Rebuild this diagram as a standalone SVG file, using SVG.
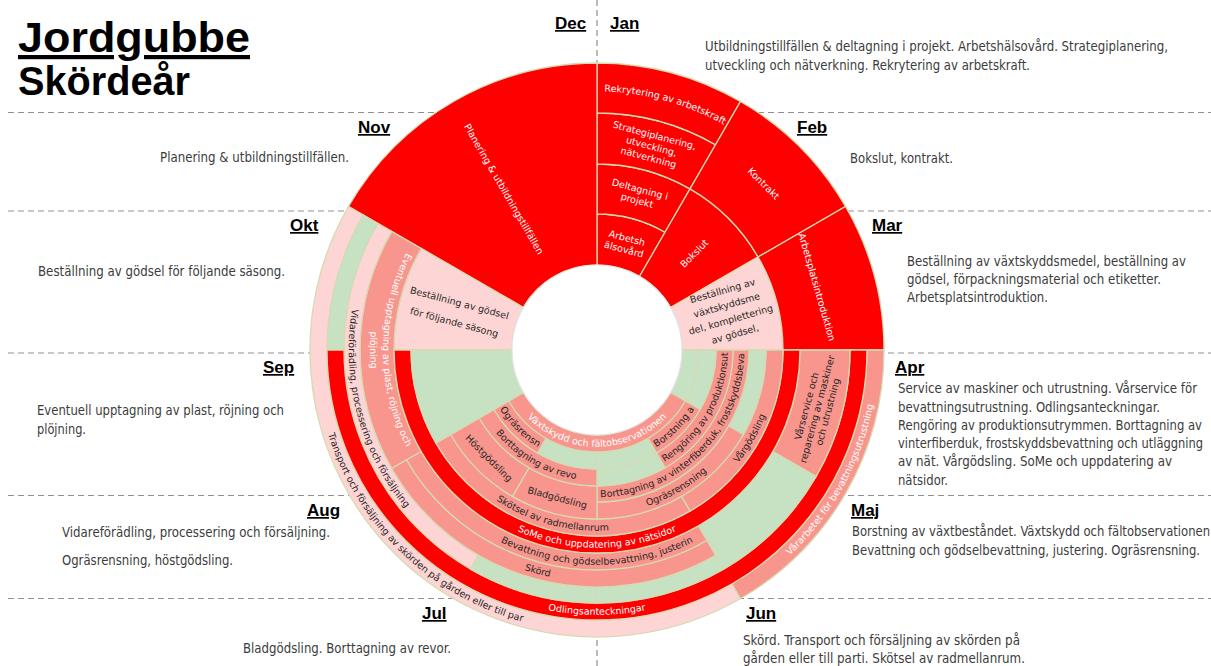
<svg xmlns="http://www.w3.org/2000/svg" width="1211" height="666" viewBox="0 0 1211 666">
<style>
.cell{stroke:#d5dab3;stroke-width:1.3}
.red{fill:#ff0000}.sal{fill:#f8958d}.pink{fill:#fdd5d4}.grn{fill:#c7e2c3}
.lbl{font-family:'DejaVu Sans',Verdana,sans-serif;font-size:9.5px;text-anchor:middle}
.w{fill:#ffffff}.d{fill:#262626}
.mon{font-family:'Liberation Sans',Arial,sans-serif;font-weight:bold;font-size:17px;text-decoration:underline;fill:#000}
.desc{font-family:'DejaVu Sans Condensed','Liberation Sans',sans-serif;font-size:14.5px;fill:#3c3c3c}
.guide{stroke:#8f8f8f;stroke-width:1.2;stroke-dasharray:6 4;fill:none}
.title{font-family:'Liberation Sans',Arial,sans-serif;font-weight:bold;fill:#000}
</style>
<defs>
<!-- baseline arcs: bottom ones run left to right through 6 o'clock, top one through 12 o'clock -->
<path id="pb97" d="M-96.8,0A96.8,96.8 0 0 0 96.8,0"/>
<path id="pb114" d="M-113.8,0A113.8,113.8 0 0 0 113.8,0"/>
<path id="pb131" d="M-130.8,0A130.8,130.8 0 0 0 130.8,0"/>
<path id="pb147" d="M-147.3,0A147.3,147.3 0 0 0 147.3,0"/>
<path id="pb164" d="M-163.8,0A163.8,163.8 0 0 0 163.8,0"/>
<path id="pb181" d="M-180.8,0A180.8,180.8 0 0 0 180.8,0"/>
<path id="pb198" d="M-197.8,0A197.8,197.8 0 0 0 197.8,0"/>
<path id="pb215" d="M-214.8,0A214.8,214.8 0 0 0 214.8,0"/>
<path id="pb232" d="M-231.8,0A231.8,231.8 0 0 0 231.8,0"/>
<path id="pb248" d="M-248.3,0A248.3,248.3 0 0 0 248.3,0"/>
<path id="pb265" d="M-264.8,0A264.8,264.8 0 0 0 264.8,0"/>
<path id="pb282" d="M-281.7,0A281.7,281.7 0 0 0 281.7,0"/>
<path id="pev1" d="M-214,0A214,214 0 0 0 214,0"/>
<path id="pev2" d="M-227,0A227,227 0 0 0 227,0"/>
<path id="pt258" d="M-258.5,0A258.5,258.5 0 0 1 258.5,0"/>
</defs>
<rect width="1211" height="666" fill="#ffffff"/>

<g id="guides" class="guide">
<line x1="8" y1="112.5" x2="1211" y2="112.5"/>
<line x1="8" y1="211" x2="1211" y2="211"/>
<line x1="8" y1="353" x2="1211" y2="353"/>
<line x1="8" y1="495.5" x2="1211" y2="495.5"/>
<line x1="8" y1="598.5" x2="1211" y2="598.5"/>
<line x1="597" y1="0" x2="597" y2="666"/>
</g>

<g id="title">
<text class="title" x="18" y="52" font-size="42" textLength="232" lengthAdjust="spacingAndGlyphs" text-decoration="underline">Jordgubbe</text>
<text class="title" x="18" y="95" font-size="40" textLength="172" lengthAdjust="spacingAndGlyphs">Skördeår</text>
</g>

<g id="month-labels">
<text class="mon" x="555" y="29">Dec</text>
<text class="mon" x="610" y="29">Jan</text>
<text class="mon" x="358" y="133">Nov</text>
<text class="mon" x="797" y="133">Feb</text>
<text class="mon" x="290" y="231">Okt</text>
<text class="mon" x="872" y="231">Mar</text>
<text class="mon" x="263" y="373">Sep</text>
<text class="mon" x="895" y="373">Apr</text>
<text class="mon" x="307" y="516">Aug</text>
<text class="mon" x="851" y="516">Maj</text>
<text class="mon" x="422" y="619">Jul</text>
<text class="mon" x="746" y="619">Jun</text>
</g>

<!-- month notes: narrow lettering, each line squeezed horizontally to its column width -->
<g id="month-notes" class="desc">
<text transform="translate(705,51) scale(0.74,1)" textLength="625.7" lengthAdjust="spacingAndGlyphs">Utbildningstillfällen &amp; deltagning i projekt. Arbetshälsovård. Strategiplanering,</text>
<text transform="translate(705,70) scale(0.74,1)" textLength="439.2" lengthAdjust="spacingAndGlyphs">utveckling och nätverkning. Rekrytering av arbetskraft.</text>
<text transform="translate(160,162) scale(0.74,1)" textLength="255.4" lengthAdjust="spacingAndGlyphs">Planering &amp; utbildningstillfällen.</text>
<text transform="translate(850,163) scale(0.74,1)" textLength="139.2" lengthAdjust="spacingAndGlyphs">Bokslut, kontrakt.</text>
<text transform="translate(38,276) scale(0.74,1)" textLength="333.8" lengthAdjust="spacingAndGlyphs">Beställning av gödsel för följande säsong.</text>
<text transform="translate(907,266) scale(0.74,1)" textLength="377" lengthAdjust="spacingAndGlyphs">Beställning av växtskyddsmedel, beställning av</text>
<text transform="translate(907,284) scale(0.74,1)" textLength="343.2" lengthAdjust="spacingAndGlyphs">gödsel, förpackningsmaterial och etiketter.</text>
<text transform="translate(907,302) scale(0.74,1)" textLength="190.5" lengthAdjust="spacingAndGlyphs">Arbetsplatsintroduktion.</text>
<text transform="translate(37,415) scale(0.74,1)" textLength="333.8" lengthAdjust="spacingAndGlyphs">Eventuell upptagning av plast, röjning och</text>
<text transform="translate(37,434) scale(0.74,1)" textLength="66.2" lengthAdjust="spacingAndGlyphs">plöjning.</text>
<text transform="translate(898,393) scale(0.74,1)" textLength="404.1" lengthAdjust="spacingAndGlyphs">Service av maskiner och utrustning. Vårservice för</text>
<text transform="translate(898,412) scale(0.74,1)" textLength="354.1" lengthAdjust="spacingAndGlyphs">bevattningsutrustning. Odlingsanteckningar.</text>
<text transform="translate(898,430) scale(0.74,1)" textLength="410.8" lengthAdjust="spacingAndGlyphs">Rengöring av produktionsutrymmen. Borttagning av</text>
<text transform="translate(898,448) scale(0.74,1)" textLength="412.2" lengthAdjust="spacingAndGlyphs">vinterfiberduk, frostskyddsbevattning och utläggning</text>
<text transform="translate(898,466) scale(0.74,1)" textLength="370.3" lengthAdjust="spacingAndGlyphs">av nät. Vårgödsling. SoMe och uppdatering av</text>
<text transform="translate(898,485) scale(0.74,1)" textLength="67.6" lengthAdjust="spacingAndGlyphs">nätsidor.</text>
<text transform="translate(62,537) scale(0.74,1)" textLength="362.2" lengthAdjust="spacingAndGlyphs">Vidareförädling, processering och försäljning.</text>
<text transform="translate(62,565) scale(0.74,1)" textLength="231.1" lengthAdjust="spacingAndGlyphs">Ogräsrensning, höstgödsling.</text>
<text transform="translate(852,536) scale(0.74,1)" textLength="483.8" lengthAdjust="spacingAndGlyphs">Borstning av växtbeståndet. Växtskydd och fältobservationen</text>
<text transform="translate(852,555) scale(0.74,1)" textLength="470.3" lengthAdjust="spacingAndGlyphs">Bevattning och gödselbevattning, justering. Ogräsrensning.</text>
<text transform="translate(243,653) scale(0.74,1)" textLength="281.1" lengthAdjust="spacingAndGlyphs">Bladgödsling. Borttagning av revor.</text>
<text transform="translate(743,645) scale(0.74,1)" textLength="374.3" lengthAdjust="spacingAndGlyphs">Skörd. Transport och försäljning av skörden på</text>
<text transform="translate(743,663) scale(0.74,1)" textLength="381.1" lengthAdjust="spacingAndGlyphs">gården eller till parti. Skötsel av radmellanrum.</text>
</g>

<g id="wheel" transform="translate(597,350)">
<!-- January: four stacked bands -->
<g id="jan-halsovard"><path class="cell red" d="M0,-136A136,136 0 0 1 68,-117.78L42.5,-73.61A85,85 0 0 0 0,-85Z"/>
<text class="lbl w" font-size="10" transform="rotate(15) translate(0,-110.5)"><tspan x="0" y="-2">Arbetsh</tspan><tspan x="0" y="9.5">älsovård</tspan></text></g>
<g id="jan-projekt"><path class="cell red" d="M0,-186A186,186 0 0 1 93,-161.08L68,-117.78A136,136 0 0 0 0,-136Z"/>
<text class="lbl w" font-size="10" transform="rotate(15) translate(0,-161)"><tspan x="0" y="-2">Deltagning i</tspan><tspan x="0" y="9.5">projekt</tspan></text></g>
<g id="jan-strategi"><path class="cell red" d="M0,-237A237,237 0 0 1 118.5,-205.25L93,-161.08A186,186 0 0 0 0,-186Z"/>
<text class="lbl w" font-size="10" transform="rotate(15) translate(0,-211)"><tspan x="0" y="-8">Strategiplanering,</tspan><tspan x="0" y="3.5">utveckling,</tspan><tspan x="0" y="15">nätverkning</tspan></text></g>
<g id="jan-rekrytering"><path class="cell red" d="M0,-287A287,287 0 0 1 143.5,-248.55L118.5,-205.25A237,237 0 0 0 0,-237Z"/>
<text class="lbl w" font-size="10" transform="rotate(15.5)"><textPath href="#pt258" startOffset="50%">Rekrytering av arbetskraft</textPath></text></g>

<!-- February -->
<g id="feb-bokslut"><path class="cell red" transform="rotate(30)" d="M0,-186A186,186 0 0 1 93,-161.08L42.5,-73.61A85,85 0 0 0 0,-85Z"/>
<text class="lbl w" font-size="11" transform="rotate(45) translate(0,-137) rotate(-90)" y="3.8">Bokslut</text></g>
<g id="feb-kontrakt"><path class="cell red" transform="rotate(30)" d="M0,-287A287,287 0 0 1 143.5,-248.55L93,-161.08A186,186 0 0 0 0,-186Z"/>
<text class="lbl w" font-size="11" transform="rotate(45) translate(0,-236)" y="3.8">Kontrakt</text></g>

<!-- March -->
<g id="mar-bestallning"><path class="cell pink" transform="rotate(60)" d="M0,-186A186,186 0 0 1 93,-161.08L42.5,-73.61A85,85 0 0 0 0,-85Z"/>
<text class="lbl d" font-size="10" transform="rotate(74) translate(0,-137) rotate(-90)"><tspan x="0" y="-19">Beställning av</tspan><tspan x="0" y="-4">växtskyddsme</tspan><tspan x="0" y="11">del, komplettering</tspan><tspan x="0" y="26">av gödsel,</tspan></text></g>
<g id="mar-introduktion"><path class="cell red" transform="rotate(60)" d="M0,-287A287,287 0 0 1 143.5,-248.55L93,-161.08A186,186 0 0 0 0,-186Z"/>
<text class="lbl w" font-size="10" transform="rotate(74) translate(0,-229)" y="3.5">Arbetsplatsintroduktion</text></g>

<!-- November and December -->
<g id="novdec-planering"><path class="cell red" transform="rotate(300)" d="M0,-287A287,287 0 0 1 248.55,-143.5L73.61,-42.5A85,85 0 0 0 0,-85Z"/>
<text class="lbl w" font-size="10" transform="rotate(330) translate(0,-186) rotate(90)" y="3.5">Planering &amp; utbildningstillfällen</text></g>

<!-- October -->
<g id="okt-godsel"><path class="cell pink" transform="rotate(270)" d="M0,-203A203,203 0 0 1 101.5,-175.8L42.5,-73.61A85,85 0 0 0 0,-85Z"/>
<text class="lbl d" font-size="10" transform="rotate(285) translate(0,-145) rotate(90)"><tspan x="0" y="-6.5">Beställning av gödsel</tspan><tspan x="0" y="13.5">för följande säsong</tspan></text></g>
<g id="okt-empty"><path class="cell grn" transform="rotate(270)" d="M0,-270A270,270 0 0 1 135,-233.83L126.5,-219.1A253,253 0 0 0 0,-253Z"/></g>

<!-- Season arcs, outer to inner -->
<g id="eventuell"><path class="cell sal" transform="rotate(240)" d="M0,-237A237,237 0 0 1 205.25,-118.5L175.8,-101.5A203,203 0 0 0 0,-203Z"/>
<text class="lbl w" font-size="9" transform="rotate(90)"><textPath href="#pev1" startOffset="50%">Eventuell upptagning av plast, röjning och</textPath></text>
<text class="lbl w" font-size="9" transform="rotate(90)"><textPath href="#pev2" startOffset="50%">plöjning</textPath></text></g>
<g id="vidareforadling"><path class="cell pink" transform="rotate(210)" d="M0,-253A253,253 0 0 1 253,0L237,0A237,237 0 0 0 0,-237Z"/>
<text class="lbl d" transform="rotate(75)"><textPath href="#pb248" startOffset="50%">Vidareförädling, processering och försäljning</textPath></text></g>
<g id="transport"><path class="cell pink" transform="rotate(150)" d="M0,-287A287,287 0 0 1 143.5,248.55L135,233.83A270,270 0 0 0 0,-270Z"/>
<text class="lbl d" font-size="9" transform="rotate(44)"><textPath href="#pb282" startOffset="50%">Transport och försäljning av skörden på gården eller till par</textPath></text></g>
<g id="vararbetet"><path class="cell sal" transform="rotate(90)" d="M0,-287A287,287 0 0 1 248.55,-143.5L233.83,-135A270,270 0 0 0 0,-270Z"/>
<text class="lbl w" font-size="9" transform="rotate(-61)"><textPath href="#pb282" startOffset="50%">Vårarbetet för bevattningsutrustning</textPath></text></g>
<g id="odling"><path class="cell red" transform="rotate(90)" d="M0,-270A270,270 0 0 1 0,270L0,253A253,253 0 0 0 0,-253Z"/>
<text class="lbl w"><textPath href="#pb265" startOffset="50%">Odlingsanteckningar</textPath></text></g>
<g id="varservice"><path class="cell sal" transform="rotate(90)" d="M0,-253A253,253 0 0 1 126.5,-219.1L101.5,-175.8A203,203 0 0 0 0,-203Z"/>
<text class="lbl d" font-size="9" transform="rotate(-75) translate(0,228)"><tspan x="0" y="-7.8">Vårservice och</tspan><tspan x="0" y="3.2">reparering av maskiner</tspan><tspan x="0" y="14.2">och utrustning</tspan></text></g>
<g id="maj-empty"><path class="cell grn" transform="rotate(120)" d="M0,-253A253,253 0 0 1 126.5,-219.1L101.5,-175.8A203,203 0 0 0 0,-203Z"/></g>
<g id="jun-empty"><path class="cell grn" transform="rotate(150)" d="M0,-253A253,253 0 0 1 126.5,-219.1L118.5,-205.25A237,237 0 0 0 0,-237Z"/></g>
<g id="jul-empty"><path class="cell grn" transform="rotate(180)" d="M0,-253A253,253 0 0 1 126.5,-219.1L118.5,-205.25A237,237 0 0 0 0,-237Z"/></g>
<g id="bevattning"><path class="cell sal" transform="rotate(150)" d="M0,-220A220,220 0 0 1 220,0L203,0A203,203 0 0 0 0,-203Z"/>
<text class="lbl d"><textPath href="#pb215" startOffset="50%">Bevattning och gödselbevattning, justerin</textPath></text></g>
<g id="skord"><path class="cell sal" transform="rotate(150)" d="M0,-237A237,237 0 0 1 237,0L220,0A220,220 0 0 0 0,-220Z"/>
<text class="lbl d" font-size="10" transform="rotate(15)"><textPath href="#pb232" startOffset="50%">Skörd</textPath></text></g>
<g id="some"><path class="cell red" transform="rotate(90)" d="M0,-203A203,203 0 0 1 0,203L0,186A186,186 0 0 0 0,-186Z"/>
<text class="lbl w"><textPath href="#pb198" startOffset="50%">SoMe och uppdatering av nätsidor</textPath></text></g>
<g id="vargodsling"><path class="cell sal" transform="rotate(90)" d="M0,-186A186,186 0 0 1 161.08,-93L146.36,-84.5A169,169 0 0 0 0,-169Z"/>
<text class="lbl d" font-size="10" transform="rotate(-60)"><textPath href="#pb181" startOffset="50%">Vårgödsling</textPath></text></g>
<g id="skotsel"><path class="cell sal" transform="rotate(150)" d="M0,-186A186,186 0 0 1 186,0L169,0A169,169 0 0 0 0,-169Z"/>
<text class="lbl d" transform="rotate(15)"><textPath href="#pb181" startOffset="50%">Skötsel av radmellanrum</textPath></text></g>
<g id="apr-empty-5"><path class="cell grn" transform="rotate(90)" d="M0,-169A169,169 0 0 1 84.5,-146.36L76,-131.64A152,152 0 0 0 0,-152Z"/></g>
<g id="ograsrensning"><path class="cell sal" transform="rotate(120)" d="M0,-169A169,169 0 0 1 146.36,-84.5L131.64,-76A152,152 0 0 0 0,-152Z"/>
<text class="lbl d" font-size="10" transform="rotate(-30)"><textPath href="#pb164" startOffset="50%">Ogräsrensning</textPath></text></g>
<g id="vinterfiberduk"><path class="cell sal" transform="rotate(90)" d="M0,-152A152,152 0 0 1 152,0L136,0A136,136 0 0 0 0,-136Z"/>
<text class="lbl d" transform="rotate(-45)"><textPath href="#pb147" startOffset="50%">Borttagning av vinterfiberduk, frostskyddsbeva</textPath></text></g>
<g id="bladgodsling"><path class="cell sal" transform="rotate(180)" d="M0,-169A169,169 0 0 1 84.5,-146.36L68,-117.78A136,136 0 0 0 0,-136Z"/>
<text class="lbl d" font-size="10.5" transform="rotate(15) translate(0,152.5)" y="3.7">Bladgödsling</text></g>
<g id="hostgodsling"><path class="cell sal" transform="rotate(210)" d="M0,-169A169,169 0 0 1 84.5,-146.36L68,-117.78A136,136 0 0 0 0,-136Z"/>
<text class="lbl d" font-size="10.5" transform="rotate(45) translate(0,152.5)" y="3.7">Höstgödsling</text></g>
<g id="rengoring"><path class="cell sal" transform="rotate(90)" d="M0,-136A136,136 0 0 1 117.78,-68L103.06,-59.5A119,119 0 0 0 0,-119Z"/>
<text class="lbl d" transform="rotate(-60)"><textPath href="#pb131" startOffset="50%">Rengöring av produktionsut</textPath></text></g>
<g id="jun-empty-3"><path class="cell grn" transform="rotate(150)" d="M0,-136A136,136 0 0 1 68,-117.78L59.5,-103.06A119,119 0 0 0 0,-119Z"/></g>
<g id="revor"><path class="cell sal" transform="rotate(180)" d="M0,-136A136,136 0 0 1 117.78,-68L103.06,-59.5A119,119 0 0 0 0,-119Z"/>
<text class="lbl d" font-size="10" transform="rotate(30)"><textPath href="#pb131" startOffset="50%">Borttagning av revo</textPath></text></g>
<g id="apr-empty-1"><path class="cell grn" transform="rotate(90)" d="M0,-102A102,102 0 0 1 51,-88.33L42.5,-73.61A85,85 0 0 0 0,-85Z"/></g>
<g id="apr-empty-2"><path class="cell grn" transform="rotate(90)" d="M0,-119A119,119 0 0 1 59.5,-103.06L51,-88.33A102,102 0 0 0 0,-102Z"/></g>
<g id="borstning"><path class="cell sal" transform="rotate(120)" d="M0,-119A119,119 0 0 1 59.5,-103.06L51,-88.33A102,102 0 0 0 0,-102Z"/>
<text class="lbl d" font-size="10" transform="rotate(-45)"><textPath href="#pb114" startOffset="50%">Borstning a</textPath></text></g>
<g id="jun-empty-2"><path class="cell grn" transform="rotate(150)" d="M0,-119A119,119 0 0 1 59.5,-103.06L51,-88.33A102,102 0 0 0 0,-102Z"/></g>
<g id="jul-empty-2"><path class="cell grn" transform="rotate(180)" d="M0,-119A119,119 0 0 1 59.5,-103.06L51,-88.33A102,102 0 0 0 0,-102Z"/></g>
<g id="ograsrensn"><path class="cell sal" transform="rotate(210)" d="M0,-119A119,119 0 0 1 59.5,-103.06L51,-88.33A102,102 0 0 0 0,-102Z"/>
<text class="lbl d" font-size="10" transform="rotate(45)"><textPath href="#pb114" startOffset="50%">Ogräsrensn</textPath></text></g>
<g id="vaxtskydd"><path class="cell sal" transform="rotate(120)" d="M0,-102A102,102 0 0 1 88.33,51L73.61,42.5A85,85 0 0 0 0,-85Z"/>
<text class="lbl w"><textPath href="#pb97" startOffset="50%">Växtskydd och fältobservationen</textPath></text></g>
<g id="sep-empty"><path class="cell grn" transform="rotate(240)" d="M0,-186A186,186 0 0 1 93,-161.08L42.5,-73.61A85,85 0 0 0 0,-85Z"/></g>

<circle id="hub" r="85" fill="#ffffff" stroke="#e4e4e4" stroke-width="1.2"/>
</g>
</svg>
